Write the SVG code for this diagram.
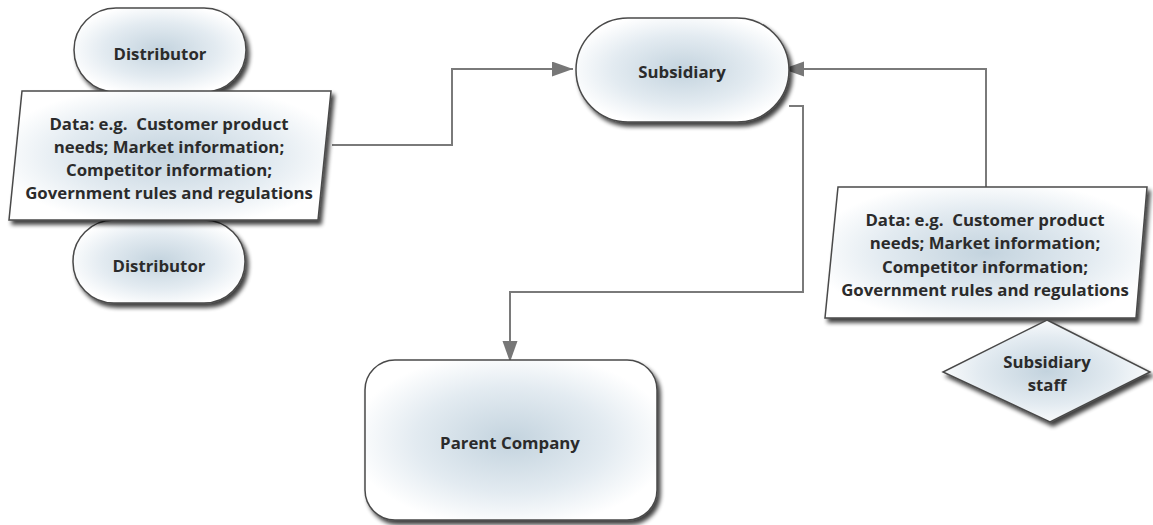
<svg xmlns="http://www.w3.org/2000/svg" width="1153" height="525" viewBox="0 0 1153 525">
<defs>
<radialGradient id="fillG" cx="0.5" cy="0.5" r="0.55">
<stop offset="0" stop-color="#c3d3de"/>
<stop offset="0.6" stop-color="#e3ebf1"/>
<stop offset="1" stop-color="#ffffff"/>
</radialGradient>
<filter id="shadow" x="-10%" y="-10%" width="125%" height="130%">
<feGaussianBlur in="SourceAlpha" stdDeviation="2"/>
<feOffset dx="3" dy="4" result="b"/>
<feComponentTransfer><feFuncA type="linear" slope="0.75"/></feComponentTransfer>
<feMerge><feMergeNode/><feMergeNode in="SourceGraphic"/></feMerge>
</filter>
<marker id="arrow" markerUnits="userSpaceOnUse" markerWidth="22" markerHeight="16" refX="21" refY="7.5" orient="auto">
<path d="M0,0 L21,7.5 L0,15 z" fill="#777"/>
</marker>
</defs>
<style>
.shape{fill:url(#fillG);stroke:#4a4a4a;stroke-width:1.5;filter:url(#shadow)}
.lbl{font-family:"Open Sans","DejaVu Sans",sans-serif;font-weight:700;font-size:16.8px;fill:#2b2b2b;text-anchor:middle;white-space:pre}
.conn{fill:none;stroke:#7a7a7a;stroke-width:2}
</style>
<g id="connectors">
<path class="conn" d="M332 145 H452 V69 H573" marker-end="url(#arrow)"/>
<path class="conn" d="M986 187 V69 H783" marker-end="url(#arrow)"/>
<path class="conn" d="M789 106 H803 V292 H510 V362" marker-end="url(#arrow)"/>
</g>
<g id="distributor-top">
<rect class="shape" x="74" y="8" width="172" height="84" rx="42"/>
<text class="lbl" x="160" y="60">Distributor</text>
</g>
<g id="distributor-bottom">
<rect class="shape" x="73" y="220" width="172" height="83" rx="41"/>
<text class="lbl" x="159" y="272">Distributor</text>
</g>
<g id="data-left">
<polygon class="shape" points="22,91 331,91 318,220 9,220"/>
<text class="lbl" xml:space="preserve" x="169" y="130">Data: e.g.  Customer product</text>
<text class="lbl" x="169" y="153">needs; Market information;</text>
<text class="lbl" x="169" y="176">Competitor information;</text>
<text class="lbl" x="169" y="199">Government rules and regulations</text>
</g>
<g id="subsidiary">
<rect class="shape" x="576" y="18" width="213" height="104" rx="52"/>
<text class="lbl" x="682" y="78">Subsidiary</text>
</g>
<g id="parent">
<rect class="shape" x="365" y="360" width="292" height="160" rx="30"/>
<text class="lbl" x="510" y="449">Parent Company</text>
</g>
<g id="data-right">
<polygon class="shape" points="838,187 1147,187 1136,318 825,318"/>
<text class="lbl" xml:space="preserve" x="985" y="226">Data: e.g.  Customer product</text>
<text class="lbl" x="985" y="249">needs; Market information;</text>
<text class="lbl" x="985" y="273">Competitor information;</text>
<text class="lbl" x="985" y="296">Government rules and regulations</text>
</g>
<g id="subsidiary-staff">
<polygon class="shape" points="1047,320 1150,372 1050,422 943,372"/>
<text class="lbl" x="1047" y="368">Subsidiary</text>
<text class="lbl" x="1047" y="391">staff</text>
</g>
</svg>
